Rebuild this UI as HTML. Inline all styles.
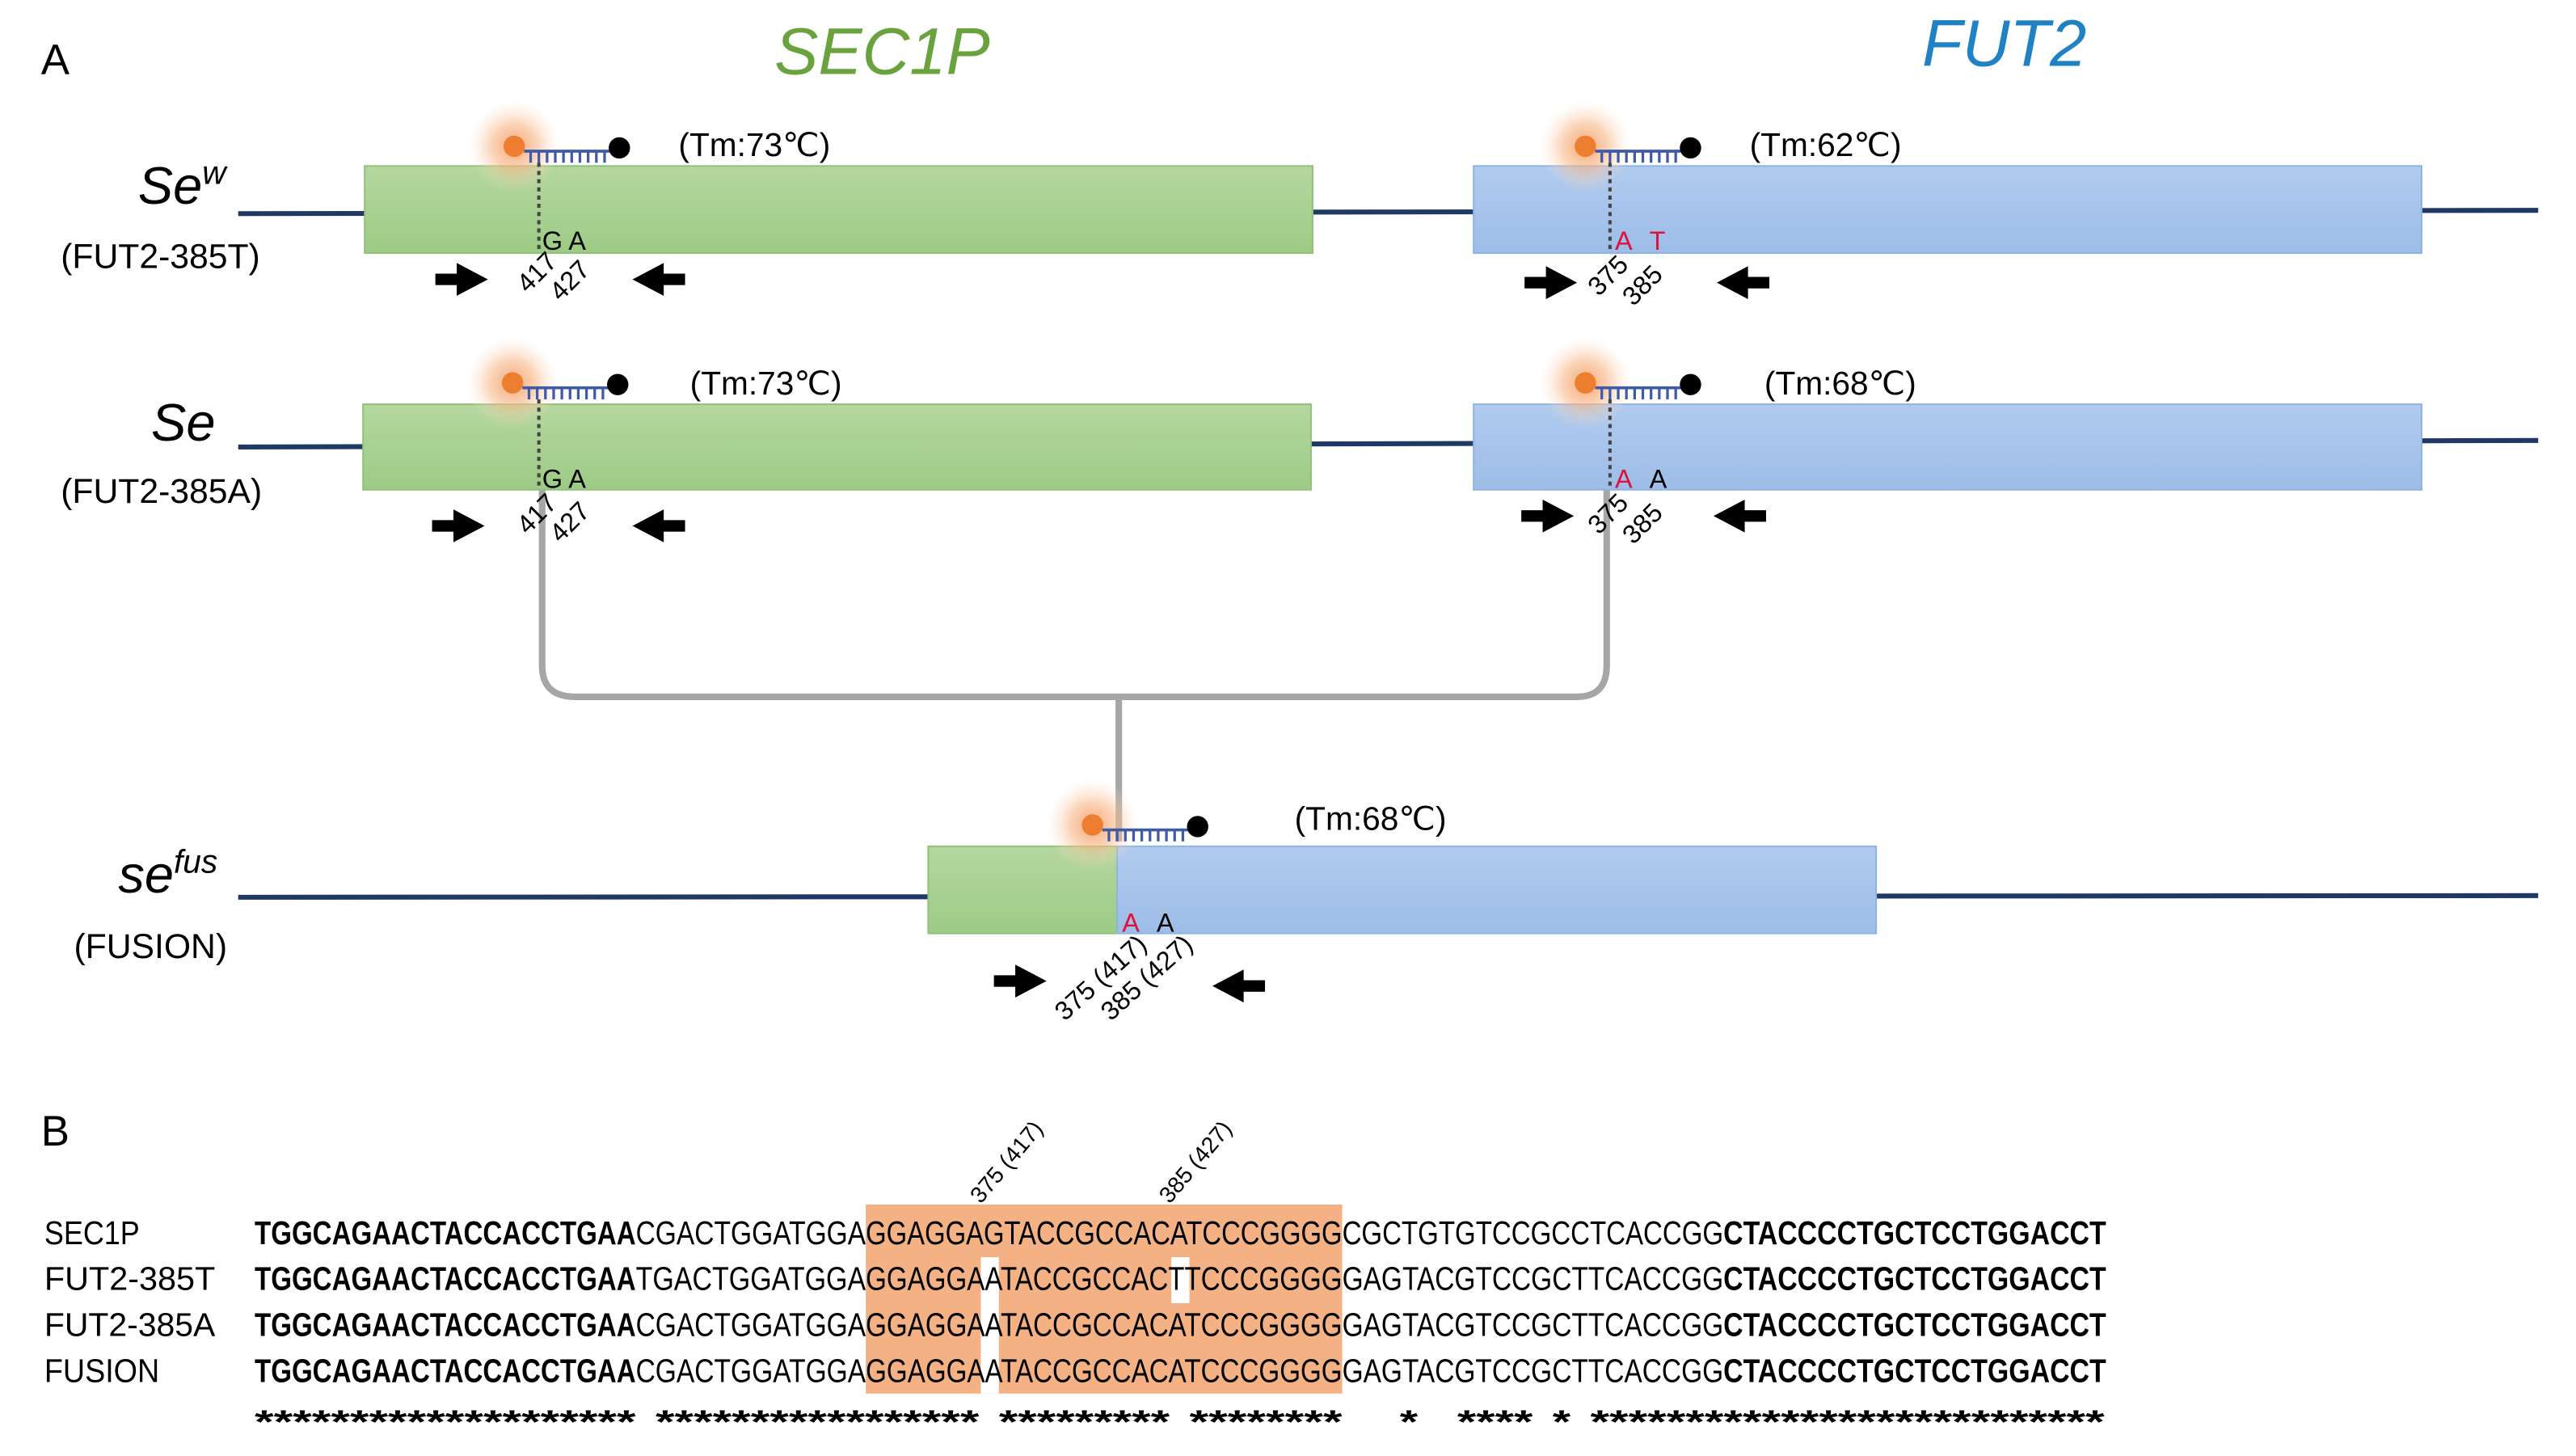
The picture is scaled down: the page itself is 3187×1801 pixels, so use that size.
<!DOCTYPE html>
<html><head><meta charset="utf-8"><style>
html,body{margin:0;padding:0;background:#fff;}
svg{display:block;}
text{font-family:"Liberation Sans",sans-serif;}
</style></head><body>
<svg width="3187" height="1801" viewBox="0 0 1568 886" preserveAspectRatio="none" xmlns="http://www.w3.org/2000/svg">
<defs>
<radialGradient id="glow"><stop offset="0" stop-color="#f5a06a" stop-opacity="0.95"/><stop offset="0.5" stop-color="#f8b88a" stop-opacity="0.6"/><stop offset="1" stop-color="#fde3d0" stop-opacity="0"/></radialGradient>
<linearGradient id="gr" x1="0" y1="0" x2="0" y2="1"><stop offset="0" stop-color="#b5d7a0"/><stop offset="1" stop-color="#9dcb85"/></linearGradient>
<linearGradient id="bl" x1="0" y1="0" x2="0" y2="1"><stop offset="0" stop-color="#b0cbee"/><stop offset="1" stop-color="#9dbde8"/></linearGradient>
<g id="probe">
<circle cx="0" cy="0" r="28" fill="url(#glow)"/>
<circle cx="0" cy="0" r="6.5" fill="#ed7d31"/>
<line x1="6" y1="3" x2="58" y2="3" stroke="#3f5aa8" stroke-width="1.8"/>
<path d="M10 3v7M15 3v7M20 3v7M25 3v7M30 3v7M35 3v7M40 3v7M45 3v7M50 3v7M55 3v7" stroke="#3f5aa8" stroke-width="1.6"/>
<circle cx="64" cy="1" r="6.5" fill="#000"/>
</g>
<path id="ar" d="M0 -3.5H13V-10L32 0L13 10V3.5H0Z" fill="#000"/>
<path id="al" d="M32 -3.5H19V-10L0 0L19 10V3.5H32Z" fill="#000"/>
</defs>

<text x="25" y="45" font-size="26">A</text>
<text x="537" y="45" font-size="40" font-style="italic" fill="#6aa23e" text-anchor="middle">SEC1P</text>
<text x="1220" y="40" font-size="40" font-style="italic" fill="#1f82c4" text-anchor="middle">FUT2</text>

<path d="M330 298V405Q330 424 350 424H960Q978 424 978 405V298M681 424V512" fill="none" stroke="#a6a6a6" stroke-width="4"/>

<line x1="145" y1="130" x2="1545" y2="128" stroke="#1f3864" stroke-width="3"/>
<rect x="222" y="101" width="577" height="53" fill="url(#gr)" stroke="#92c27a" stroke-width="1"/>
<rect x="897" y="101" width="577" height="53" fill="url(#bl)" stroke="#8eb4e3" stroke-width="1"/>
<text x="84" y="124" font-size="32" font-style="italic">Se<tspan font-size="20" dy="-12">w</tspan></text>
<text x="37" y="163" font-size="21">(FUT2-385T)</text>
<use href="#probe" x="313" y="89"/>
<text x="413" y="95" font-size="20">(Tm:73℃)</text>
<line x1="328" y1="99" x2="328" y2="154" stroke="#444" stroke-width="2" stroke-dasharray="2.5 2.5"/>
<text x="330" y="152" font-size="16">G A</text>
<text transform="translate(340,160) rotate(-45)" font-size="16" text-anchor="end">417</text>
<text transform="translate(360,165) rotate(-45)" font-size="16" text-anchor="end">427</text>
<use href="#ar" x="265" y="170"/><use href="#al" x="385" y="170"/>
<use href="#probe" x="965" y="89"/>
<text x="1065" y="95" font-size="20">(Tm:62℃)</text>
<line x1="980" y1="99" x2="980" y2="154" stroke="#444" stroke-width="2" stroke-dasharray="2.5 2.5"/>
<text x="983" y="152" font-size="16" fill="#e0103a">A</text><text x="1004" y="152" font-size="16" fill="#e0103a">T</text>
<text transform="translate(992,162) rotate(-45)" font-size="16" text-anchor="end">375</text>
<text transform="translate(1013,168) rotate(-45)" font-size="16" text-anchor="end">385</text>
<use href="#ar" x="928" y="172"/><use href="#al" x="1045" y="172"/>

<line x1="145" y1="272" x2="1545" y2="268" stroke="#1f3864" stroke-width="3"/>
<rect x="221" y="246" width="577" height="52" fill="url(#gr)" stroke="#92c27a" stroke-width="1"/>
<rect x="897" y="246" width="577" height="52" fill="url(#bl)" stroke="#8eb4e3" stroke-width="1"/>
<text x="92" y="268" font-size="32" font-style="italic">Se</text>
<text x="37" y="306" font-size="21">(FUT2-385A)</text>
<use href="#probe" x="312" y="233"/>
<text x="420" y="240" font-size="20">(Tm:73℃)</text>
<line x1="328" y1="243" x2="328" y2="298" stroke="#444" stroke-width="2" stroke-dasharray="2.5 2.5"/>
<text x="330" y="297" font-size="16">G A</text>
<text transform="translate(340,307) rotate(-45)" font-size="16" text-anchor="end">417</text>
<text transform="translate(360,312) rotate(-45)" font-size="16" text-anchor="end">427</text>
<use href="#ar" x="263" y="320"/><use href="#al" x="385" y="320"/>
<use href="#probe" x="965" y="233"/>
<text x="1074" y="240" font-size="20">(Tm:68℃)</text>
<line x1="980" y1="243" x2="980" y2="298" stroke="#444" stroke-width="2" stroke-dasharray="2.5 2.5"/>
<text x="983" y="297" font-size="16" fill="#e0103a">A</text><text x="1004" y="297" font-size="16">A</text>
<text transform="translate(992,307) rotate(-45)" font-size="16" text-anchor="end">375</text>
<text transform="translate(1013,313) rotate(-45)" font-size="16" text-anchor="end">385</text>
<use href="#ar" x="926" y="314"/><use href="#al" x="1043" y="314"/>

<line x1="145" y1="546" x2="1545" y2="545" stroke="#1f3864" stroke-width="3"/>
<rect x="565" y="515" width="115" height="53" fill="url(#gr)" stroke="#92c27a" stroke-width="1"/>
<rect x="680" y="515" width="462" height="53" fill="url(#bl)" stroke="#8eb4e3" stroke-width="1"/>
<use href="#probe" x="665" y="502"/>
<text x="788" y="505" font-size="20">(Tm:68℃)</text>
<text x="72" y="543" font-size="32" font-style="italic">se<tspan font-size="20" dy="-12">fus</tspan></text>
<text x="45" y="583" font-size="21">(FUSION)</text>
<text x="683" y="567" font-size="16" fill="#e0103a">A</text><text x="704" y="567" font-size="16">A</text>
<text transform="translate(699,576) rotate(-42)" font-size="16" text-anchor="end">375 (417)</text>
<text transform="translate(727,576) rotate(-42)" font-size="16" text-anchor="end">385 (427)</text>
<use href="#ar" x="605" y="597"/><use href="#al" x="738" y="600"/>

<text x="25" y="697" font-size="26">B</text>
<rect x="527" y="733" width="290" height="115" fill="#f4b183"/>
<rect x="597" y="765" width="11" height="83" fill="#fff"/>
<rect x="713" y="765" width="11" height="28" fill="#fff"/>
<text transform="translate(597,733) rotate(-50)" font-size="14">375 (417)</text>
<text transform="translate(712,733) rotate(-50)" font-size="14">385 (427)</text>

<g font-size="20" font-family="'Liberation Sans',sans-serif">
<text x="27" y="757" textLength="58" lengthAdjust="spacingAndGlyphs">SEC1P</text>
<text x="27" y="785" textLength="104" lengthAdjust="spacingAndGlyphs">FUT2-385T</text>
<text x="27" y="813" textLength="104" lengthAdjust="spacingAndGlyphs">FUT2-385A</text>
<text x="27" y="841" textLength="70" lengthAdjust="spacingAndGlyphs">FUSION</text>

<text y="757"><tspan x="155" font-weight="bold" textLength="232" lengthAdjust="spacingAndGlyphs">TGGCAGAACTACCACCTGAA</tspan><tspan x="387" textLength="140" lengthAdjust="spacingAndGlyphs">CGACTGGATGGA</tspan><tspan x="527" textLength="290" lengthAdjust="spacingAndGlyphs">GGAGGAGTACCGCCACATCCCGGGG</tspan><tspan x="817" textLength="232" lengthAdjust="spacingAndGlyphs">CGCTGTGTCCGCCTCACCGG</tspan><tspan x="1049" font-weight="bold" textLength="233" lengthAdjust="spacingAndGlyphs">CTACCCCTGCTCCTGGACCT</tspan></text>
<text y="785"><tspan x="155" font-weight="bold" textLength="232" lengthAdjust="spacingAndGlyphs">TGGCAGAACTACCACCTGAA</tspan><tspan x="387" textLength="140" lengthAdjust="spacingAndGlyphs">TGACTGGATGGA</tspan><tspan x="527" textLength="290" lengthAdjust="spacingAndGlyphs">GGAGGAATACCGCCACTTCCCGGGG</tspan><tspan x="817" textLength="232" lengthAdjust="spacingAndGlyphs">GAGTACGTCCGCTTCACCGG</tspan><tspan x="1049" font-weight="bold" textLength="233" lengthAdjust="spacingAndGlyphs">CTACCCCTGCTCCTGGACCT</tspan></text>
<text y="813"><tspan x="155" font-weight="bold" textLength="232" lengthAdjust="spacingAndGlyphs">TGGCAGAACTACCACCTGAA</tspan><tspan x="387" textLength="140" lengthAdjust="spacingAndGlyphs">CGACTGGATGGA</tspan><tspan x="527" textLength="290" lengthAdjust="spacingAndGlyphs">GGAGGAATACCGCCACATCCCGGGG</tspan><tspan x="817" textLength="232" lengthAdjust="spacingAndGlyphs">GAGTACGTCCGCTTCACCGG</tspan><tspan x="1049" font-weight="bold" textLength="233" lengthAdjust="spacingAndGlyphs">CTACCCCTGCTCCTGGACCT</tspan></text>
<text y="841"><tspan x="155" font-weight="bold" textLength="232" lengthAdjust="spacingAndGlyphs">TGGCAGAACTACCACCTGAA</tspan><tspan x="387" textLength="140" lengthAdjust="spacingAndGlyphs">CGACTGGATGGA</tspan><tspan x="527" textLength="290" lengthAdjust="spacingAndGlyphs">GGAGGAATACCGCCACATCCCGGGG</tspan><tspan x="817" textLength="232" lengthAdjust="spacingAndGlyphs">GAGTACGTCCGCTTCACCGG</tspan><tspan x="1049" font-weight="bold" textLength="233" lengthAdjust="spacingAndGlyphs">CTACCCCTGCTCCTGGACCT</tspan></text>

<text y="872" font-weight="bold"><tspan x="155" textLength="232" lengthAdjust="spacingAndGlyphs">********************</tspan><tspan x="399" textLength="197" lengthAdjust="spacingAndGlyphs">*****************</tspan><tspan x="608" textLength="104" lengthAdjust="spacingAndGlyphs">*********</tspan><tspan x="724" textLength="93" lengthAdjust="spacingAndGlyphs">********</tspan><tspan x="852" textLength="11" lengthAdjust="spacingAndGlyphs">*</tspan><tspan x="887" textLength="46" lengthAdjust="spacingAndGlyphs">****</tspan><tspan x="945" textLength="11" lengthAdjust="spacingAndGlyphs">*</tspan><tspan x="968" textLength="313" lengthAdjust="spacingAndGlyphs">***************************</tspan></text>
</g>
</svg>
</body></html>
